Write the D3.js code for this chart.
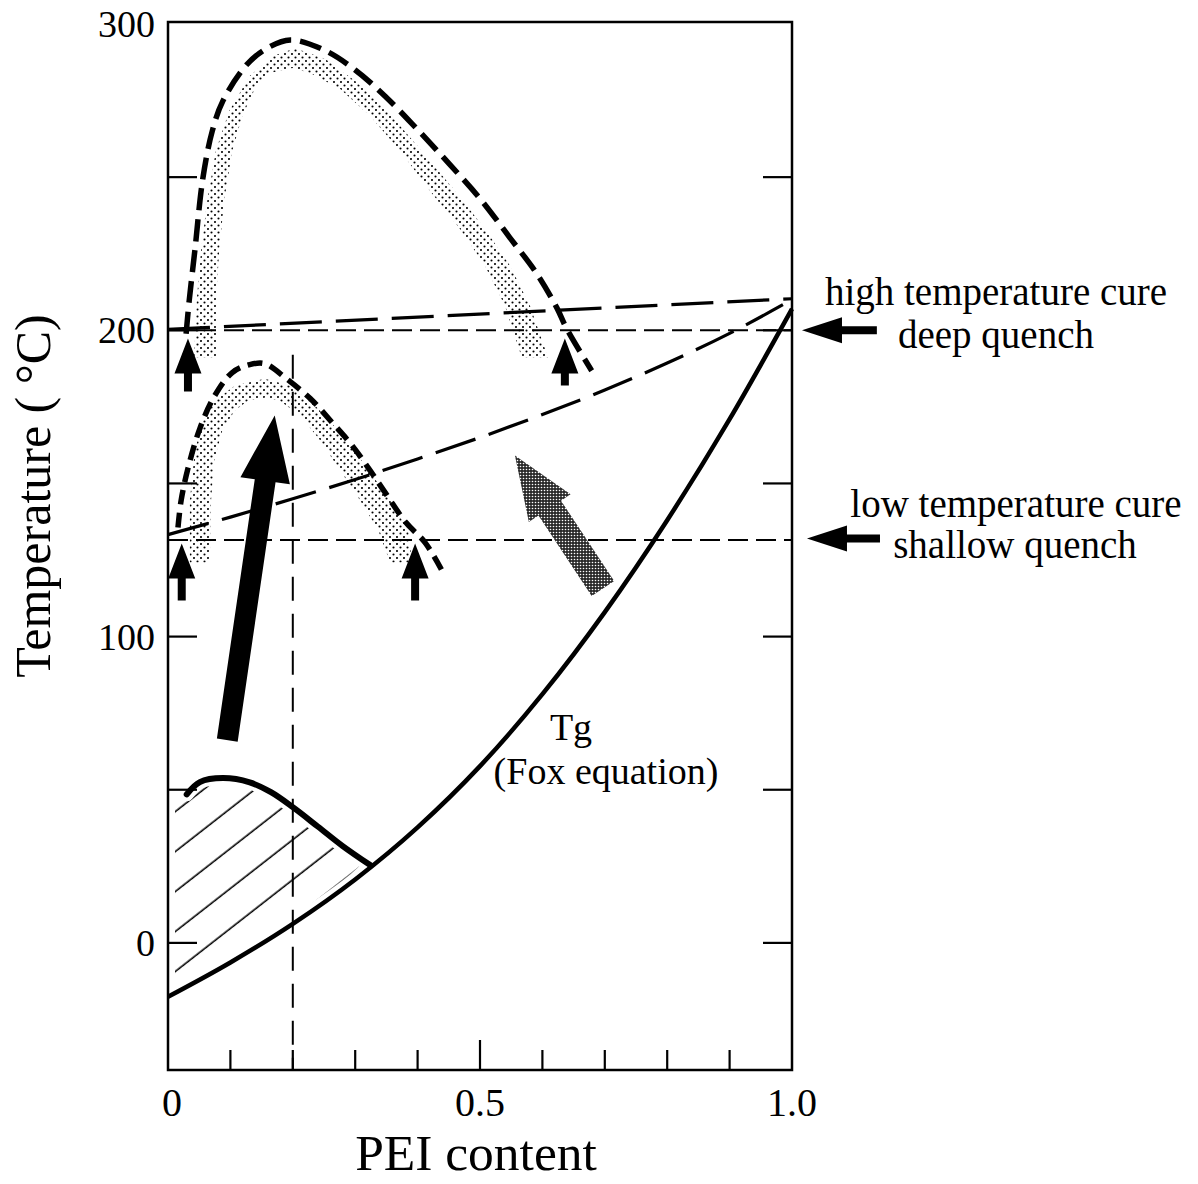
<!DOCTYPE html>
<html lang="en">
<head>
<meta charset="UTF-8">
<title>PEI content vs temperature</title>
<script src="https://d3js.org/d3.v7.min.js"></script>
<style>
  body { margin: 0; background: #fff; }
  svg text { font-family: "Liberation Serif", "Times New Roman", serif; fill: #000; }
</style>
</head>
<body>
<script>
// points: [PEI content, temperature in °C]
const tgFox = [[0, -17.6], [0.1, -6.4], [0.2, 6.2], [0.3, 20.7], [0.4, 37.7], [0.5, 57.7], [0.6, 81.2],
  [0.7, 108], [0.8, 138], [0.9, 171], [1, 207]];
const cloudPoint = [[0.03, 48.5], [0.051, 52.5], [0.088, 53.8], [0.131, 52.4], [0.165, 49.2], [0.2, 44.3],
  [0.24, 38], [0.28, 31.6], [0.324, 25.4]];

const upperBinodal = [[0.029, 198.9], [0.034, 209.7], [0.043, 226], [0.056, 249.8], [0.071, 265.1], [0.088, 274.9],
  [0.127, 286.9], [0.159, 292.1], [0.196, 294.8], [0.25, 291.5], [0.3, 285], [0.35, 276], [0.4, 265.5],
  [0.45, 254.5], [0.5, 243], [0.548, 230.2], [0.591, 218.5], [0.623, 207.4], [0.639, 200.5], [0.679, 186.8]];
const lowerBinodal = [[0.016, 135.6], [0.021, 144.4], [0.032, 154.9], [0.051, 167.9], [0.075, 178.7], [0.103, 186.2],
  [0.131, 188.8], [0.155, 189.1], [0.188, 184.5], [0.228, 177.7], [0.263, 169.9], [0.295, 162.4], [0.324, 154.2],
  [0.351, 146.1], [0.381, 137.3], [0.412, 130.7], [0.439, 121.6]];

// stippled bands: outer edge then inner edge (coming back)
const upperBand = [[0.042, 191.1], [0.046, 209.7], [0.053, 226], [0.063, 242.5], [0.077, 258.9], [0.098, 271.6],
  [0.131, 283], [0.167, 289.5], [0.204, 292.1], [0.252, 288.6], [0.3, 281.4], [0.348, 272.3], [0.404, 259.2],
  [0.46, 245.5], [0.508, 233.1], [0.548, 221.1], [0.58, 208], [0.609, 191.1],
  [0.567, 191.1], [0.54, 208], [0.508, 221.1], [0.468, 233.1], [0.42, 245.5], [0.372, 258.6], [0.324, 270],
  [0.276, 278.8], [0.228, 284], [0.199, 285.6], [0.163, 284], [0.139, 278.8], [0.119, 270], [0.103, 258.6],
  [0.09, 242.3], [0.082, 226], [0.077, 209.7], [0.077, 191.1]];
const lowerBand = [[0.035, 124.2], [0.035, 144.4], [0.043, 160.7], [0.056, 170.5], [0.075, 177], [0.107, 181.9],
  [0.155, 184.2], [0.196, 181.9], [0.236, 175.4], [0.276, 166.6], [0.316, 155.9], [0.356, 144.4], [0.385, 134.7],
  [0.391, 124.2],
  [0.356, 124.2], [0.337, 134.7], [0.308, 144.4], [0.276, 154.2], [0.244, 164], [0.212, 172.2], [0.179, 177],
  [0.155, 178], [0.128, 177], [0.107, 173.8], [0.087, 167.3], [0.074, 157.5], [0.069, 144.4], [0.067, 124.2]];

const cureLineHigh = [[0, 200.3], [1, 210.3]];
const cureLineLow = [[0, 133.3], [0.1, 139], [0.2, 145], [0.3, 151.3], [0.4, 158], [0.5, 165], [0.6, 172.5],
  [0.7, 180.5], [0.8, 189.3], [0.9, 199], [1, 210]];
const cureTemps = [200, 131.5];
const markedContent = 0.2;

// arrows: [x tail, T tail, x tip, T tip]
const smallArrows = [[0.032, 180, 0.032, 197.3], [0.022, 111.8, 0.022, 130.4],
  [0.396, 111.8, 0.396, 130.4], [0.636, 182, 0.636, 197.3]];
const bigArrow = [0.095, 66.2, 0.171, 172.2];
const grayArrow = [0.697, 115.7, 0.556, 159.1];
const quenchArrows = [[1.136, 200, 1.016, 200], [1.141, 132, 1.024, 132]];

const yTickLabels = [0, 100, 200, 300];
const yTicks = [0, 50, 100, 150, 200, 250];
const xTicks = [0.1, 0.2, 0.3, 0.4, 0.5, 0.6, 0.7, 0.8, 0.9];
const xTickLabels = [[0, "0"], [0.5, "0.5"], [1, "1.0"]];

const W = 1198, H = 1184;
const x = d3.scaleLinear().domain([0, 1]).range([168, 792]);
const y = d3.scaleLinear().domain([-41.5, 300.65]).range([1070, 22]);

const svg = d3.select("body").append("svg")
  .attr("width", W).attr("height", H);

const defs = svg.append("defs");
const dots = defs.append("pattern").attr("id", "dots")
  .attr("patternUnits", "userSpaceOnUse").attr("width", 7).attr("height", 7);
dots.append("circle").attr("cx", 1.5).attr("cy", 1.5).attr("r", 1.05).attr("fill", "#000");
dots.append("circle").attr("cx", 5).attr("cy", 5).attr("r", 1.05).attr("fill", "#000");

const mesh = defs.append("pattern").attr("id", "mesh")
  .attr("patternUnits", "userSpaceOnUse").attr("width", 3).attr("height", 3);
mesh.append("rect").attr("width", 3).attr("height", 3).attr("fill", "#2a2a2a");
mesh.append("circle").attr("cx", 1.5).attr("cy", 1.5).attr("r", 0.8).attr("fill", "#fff");

const hatch = defs.append("pattern").attr("id", "hatch")
  .attr("patternUnits", "userSpaceOnUse").attr("width", 20).attr("height", 31.5)
  .attr("patternTransform", "rotate(-38) translate(0,8)");
hatch.append("line").attr("x1", 0).attr("x2", 20).attr("y1", 15).attr("y2", 15)
  .attr("stroke", "#000").attr("stroke-width", 1.6);

const line = d3.line().x(d => x(d[0])).y(d => y(d[1]));
const smooth = d3.line().x(d => x(d[0])).y(d => y(d[1])).curve(d3.curveCatmullRom);
const mono = d3.line().x(d => x(d[0])).y(d => y(d[1])).curve(d3.curveMonotoneX);

// stippled bands
svg.selectAll(".band").data([upperBand, lowerBand]).enter().append("path")
  .attr("class", "band")
  .attr("d", d => line(d) + "Z")
  .attr("fill", "url(#dots)");

// hatched region between cloud point curve and Tg
const tgLow = tgFox.filter(d => d[0] < 0.324).concat([[0.324, 25.4]]);
const regionPath = "M" + x(0) + "," + y(49) + "L" + smooth(cloudPoint).slice(1) +
  smooth(tgLow.slice().reverse()).replace(/^M/, "L") + "Z";
svg.append("path").attr("d", regionPath).attr("fill", "url(#hatch)");
svg.append("path").attr("d", regionPath).attr("fill", "none")
  .attr("stroke", "#fff").attr("stroke-width", 14).attr("stroke-linejoin", "round");

// cure temperature lines
svg.selectAll(".cure").data(cureTemps).enter().append("line")
  .attr("x1", x(0)).attr("x2", x(1))
  .attr("y1", d => y(d)).attr("y2", d => y(d))
  .attr("stroke", "#000").attr("stroke-width", 2).attr("stroke-dasharray", "20,8");

svg.append("line")
  .attr("x1", x(markedContent)).attr("x2", x(markedContent))
  .attr("y1", y(192)).attr("y2", y(-41.5))
  .attr("stroke", "#000").attr("stroke-width", 2).attr("stroke-dasharray", "24,13");

svg.selectAll(".longdash").data([cureLineHigh, cureLineLow]).enter().append("path")
  .attr("d", d => mono(d))
  .attr("fill", "none").attr("stroke", "#000").attr("stroke-width", 3.2)
  .attr("stroke-dasharray", "42,14");

// binodal curves
svg.append("path").attr("d", smooth(upperBinodal))
  .attr("fill", "none").attr("stroke", "#000").attr("stroke-width", 5.5)
  .attr("stroke-dasharray", "22,9");
svg.append("path").attr("d", smooth(lowerBinodal))
  .attr("fill", "none").attr("stroke", "#000").attr("stroke-width", 5.5)
  .attr("stroke-dasharray", "15,8");

// Tg and cloud point curve
svg.append("path").attr("d", mono(tgFox))
  .attr("fill", "none").attr("stroke", "#000").attr("stroke-width", 4.5);
svg.append("path").attr("d", smooth(cloudPoint))
  .attr("fill", "none").attr("stroke", "#000").attr("stroke-width", 6)
  .attr("stroke-linecap", "round");

// arrows
function arrowPath(a, shaftW, headL, headW) {
  const x0 = x(a[0]), y0 = y(a[1]), x1 = x(a[2]), y1 = y(a[3]);
  const len = Math.hypot(x1 - x0, y1 - y0);
  const ux = (x1 - x0) / len, uy = (y1 - y0) / len;
  const nx = -uy, ny = ux;
  const bx = x1 - ux * headL, by = y1 - uy * headL;
  const pts = [
    [x0 + nx * shaftW / 2, y0 + ny * shaftW / 2],
    [bx + nx * shaftW / 2, by + ny * shaftW / 2],
    [bx + nx * headW / 2, by + ny * headW / 2],
    [x1, y1],
    [bx - nx * headW / 2, by - ny * headW / 2],
    [bx - nx * shaftW / 2, by - ny * shaftW / 2],
    [x0 - nx * shaftW / 2, y0 - ny * shaftW / 2]
  ];
  return "M" + pts.map(p => p.join(",")).join("L") + "Z";
}

svg.selectAll(".small-arrow").data(smallArrows).enter().append("path")
  .attr("d", d => arrowPath(d, 8, 35, 27)).attr("fill", "#000");
svg.append("path").attr("d", arrowPath(bigArrow, 21, 66, 50)).attr("fill", "#000");
svg.append("path").attr("d", arrowPath(grayArrow, 27, 63, 50)).attr("fill", "url(#mesh)");
svg.selectAll(".quench-arrow").data(quenchArrows).enter().append("path")
  .attr("d", d => arrowPath(d, 8, 40, 26)).attr("fill", "#000");

// frame and ticks
svg.append("rect")
  .attr("x", x(0)).attr("y", y(300.65))
  .attr("width", x(1) - x(0)).attr("height", y(-41.5) - y(300.65))
  .attr("fill", "none").attr("stroke", "#000").attr("stroke-width", 2.5);

const ticks = svg.append("g").attr("stroke", "#000").attr("stroke-width", 2.2);
ticks.selectAll(".yl").data(yTicks).enter().append("line")
  .attr("x1", x(0)).attr("x2", x(0) + 29)
  .attr("y1", d => y(d)).attr("y2", d => y(d));
ticks.selectAll(".yr").data(yTicks).enter().append("line")
  .attr("x1", x(1)).attr("x2", x(1) - 29)
  .attr("y1", d => y(d)).attr("y2", d => y(d));
ticks.selectAll(".xb").data(xTicks).enter().append("line")
  .attr("x1", d => x(d)).attr("x2", d => x(d))
  .attr("y1", y(-41.5)).attr("y2", d => y(-41.5) - (d === 0.5 ? 30 : 20));

svg.selectAll(".ylab").data(yTickLabels).enter().append("text")
  .attr("x", 155).attr("y", d => y(d)).attr("dy", "0.34em")
  .attr("text-anchor", "end").attr("font-size", 38)
  .text(d => d);
svg.selectAll(".xlab").data(xTickLabels).enter().append("text")
  .attr("x", d => x(d[0]) + (d[0] === 0 ? 4 : 0)).attr("y", 1116)
  .attr("text-anchor", "middle").attr("font-size", 40)
  .text(d => d[1]);

svg.append("text")
  .attr("x", 476).attr("y", 1170)
  .attr("text-anchor", "middle").attr("font-size", 51.5)
  .text("PEI content");
svg.append("text")
  .attr("transform", "translate(50,496) rotate(-90)")
  .attr("text-anchor", "middle").attr("font-size", 50)
  .text("Temperature ( °C)");

svg.append("text").attr("x", 571).attr("y", 740)
  .attr("text-anchor", "middle").attr("font-size", 38).text("Tg");
svg.append("text").attr("x", 606).attr("y", 784)
  .attr("text-anchor", "middle").attr("font-size", 38).text("(Fox equation)");

const notes = [
  [996, 305, "high temperature cure"], [996, 348, "deep quench"],
  [1016, 517, "low temperature cure"], [1015, 558, "shallow quench"]
];
svg.selectAll(".note").data(notes).enter().append("text")
  .attr("x", d => d[0]).attr("y", d => d[1])
  .attr("text-anchor", "middle").attr("font-size", 39)
  .text(d => d[2]);
</script>
</body>
</html>
